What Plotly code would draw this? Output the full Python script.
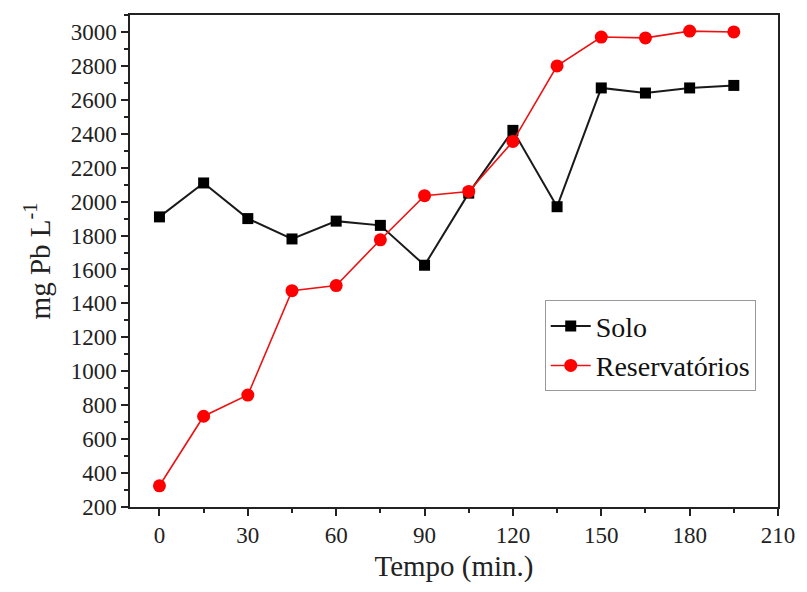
import plotly.graph_objects as go

tempo = [0, 15, 30, 45, 60, 75, 90, 105, 120, 135, 150, 165, 180, 195]
solo = [1910, 2110, 1900, 1780, 1885, 1860, 1625, 2050, 2420, 1970, 2670, 2640, 2670, 2685]
reservatorios = [325, 735, 860, 1475, 1505, 1775, 2035, 2060, 2355, 2800, 2970, 2965, 3005, 3000]

FONT = "Liberation Serif, Times New Roman, serif"

fig = go.Figure()
fig.add_trace(go.Scatter(x=tempo, y=solo, name="Solo", mode="lines+markers",
                         line=dict(color="#1a1a1a", width=2),
                         marker=dict(symbol="square", size=11, color="black")))
fig.add_trace(go.Scatter(x=tempo, y=reservatorios, name="Reservatórios", mode="lines+markers",
                         line=dict(color="#ee1111", width=1.6),
                         marker=dict(symbol="circle", size=13, color="#ff0000")))

axis_common = dict(showline=True, linecolor="#222", linewidth=1.5, mirror=True,
                   showgrid=False, zeroline=False, ticks="outside", ticklen=7,
                   tickwidth=1.5, tickcolor="#222",
                   tickfont=dict(family=FONT, size=23, color="#222"))

fig.update_xaxes(range=[-10, 210], tickvals=[0, 30, 60, 90, 120, 150, 180, 210],
                 minor=dict(dtick=15, tick0=0, ticks="outside", ticklen=4, tickcolor="#222"),
                 title=dict(text="Tempo (min.)", font=dict(family=FONT, size=29, color="#222"),
                            standoff=8),
                 **axis_common)
fig.update_yaxes(range=[200, 3100], tickvals=list(range(200, 3001, 200)),
                 minor=dict(dtick=100, tick0=0, ticks="outside", ticklen=4, tickcolor="#222"),
                 title=dict(text="mg Pb L<sup>-1</sup>", font=dict(family=FONT, size=29, color="#222"),
                            standoff=12),
                 **axis_common)

fig.update_layout(
    width=807, height=592,
    margin=dict(l=130, r=18, t=15, b=85),
    plot_bgcolor="white", paper_bgcolor="white",
    legend=dict(x=0.64, y=0.42, xanchor="left", yanchor="top",
                bordercolor="#999", borderwidth=1, bgcolor="white",
                font=dict(family=FONT, size=28, color="#111"),
                itemwidth=40, tracegroupgap=0),
    showlegend=True,
)

fig.write_html("out.html")
